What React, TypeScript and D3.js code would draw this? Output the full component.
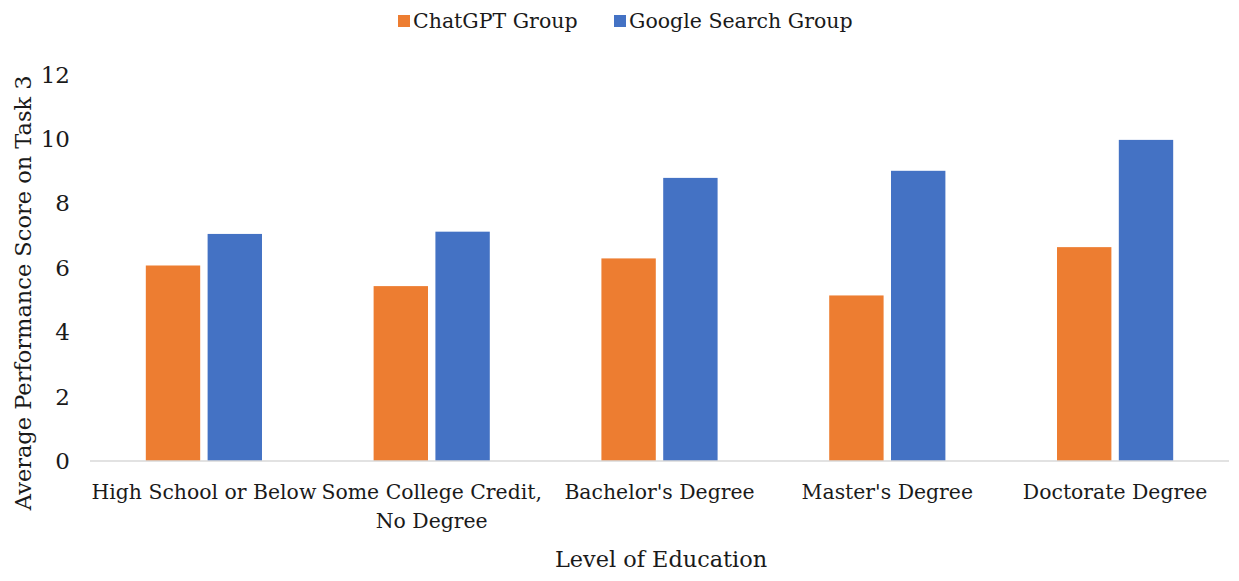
import * as d3 from 'd3';
import React, { useEffect } from 'react';

const categories = [
  'High School or Below',
  'Some College Credit,\nNo Degree',
  "Bachelor's Degree",
  "Master's Degree",
  'Doctorate Degree',
];
const seriesNames = ['ChatGPT Group', 'Google Search Group'];
const chatgptScores = [6.07, 5.43, 6.29, 5.14, 6.64];
const googleScores = [7.05, 7.12, 8.79, 9.01, 9.97];
const yTicks = [0, 2, 4, 6, 8, 10, 12];
const colors = ['#ED7D31', '#4472C4'];

// Liberation Serif is not available here, DejaVu Serif is the nearest serif
const FONT = 'DejaVu Serif';

export default function App() {
  const ref = React.useRef<SVGSVGElement>(null);

  useEffect(() => {
    if (!ref.current) return;
    const svg = d3.select(ref.current);
    svg.selectAll('*').remove();

    const left = 90;
    const right = 1229;
    const top = 74.5;
    const bottom = 461;

    const x0 = d3
      .scaleBand()
      .domain(categories)
      .range([left, right])
      .paddingInner(0.49)
      .paddingOuter(0.245);
    const x1 = d3
      .scaleBand()
      .domain(seriesNames)
      .range([0, x0.bandwidth()])
      .paddingInner(0.12);
    const y = d3.scaleLinear().domain([0, 12]).range([bottom, top]);

    const rows = categories.map((c, i) => ({
      category: c,
      values: [chatgptScores[i], googleScores[i]],
    }));

    // Bars
    const groups = svg
      .selectAll('.cat')
      .data(rows)
      .enter()
      .append('g')
      .attr('transform', d => `translate(${x0(d.category)},0)`);
    groups
      .selectAll('rect')
      .data(d => d.values.map((v, i) => ({ name: seriesNames[i], value: v, i })))
      .enter()
      .append('rect')
      .attr('x', d => x1(d.name) as number)
      .attr('y', d => y(d.value))
      .attr('width', x1.bandwidth())
      .attr('height', d => y(0) - y(d.value))
      .attr('fill', d => colors[d.i]);

    // Baseline
    svg
      .append('line')
      .attr('x1', left)
      .attr('x2', right)
      .attr('y1', y(0))
      .attr('y2', y(0))
      .attr('stroke', '#d9d9d9')
      .attr('stroke-width', 1.5);

    // Y tick labels
    svg
      .selectAll('.ytick')
      .data(yTicks)
      .enter()
      .append('text')
      .attr('x', 70)
      .attr('y', d => y(d))
      .attr('dy', '0.35em')
      .attr('text-anchor', 'end')
      .attr('font-family', FONT)
      .attr('font-size', 23)
      .text(d => d);

    // Category labels
    const catLabels = svg
      .selectAll('.xlabel')
      .data(categories)
      .enter()
      .append('text')
      .attr('text-anchor', 'middle')
      .attr('font-family', FONT)
      .attr('font-size', 20.4)
      .attr('transform', d => `translate(${(x0(d) as number) + x0.bandwidth() / 2},499)`);
    catLabels
      .selectAll('tspan')
      .data(d => d.split('\n'))
      .enter()
      .append('tspan')
      .attr('x', 0)
      .attr('y', (d, i) => i * 29)
      .text(d => d);

    // Axis titles
    svg
      .append('text')
      .attr('x', 661)
      .attr('y', 567)
      .attr('text-anchor', 'middle')
      .attr('font-family', FONT)
      .attr('font-size', 22.4)
      .text('Level of Education');
    svg
      .append('text')
      .attr('transform', `translate(31,${(top + bottom) / 2 + 25}) rotate(-90)`)
      .attr('text-anchor', 'middle')
      .attr('font-family', FONT)
      .attr('font-size', 22.5)
      .text('Average Performance Score on Task 3');

    // Legend
    const legendX = [398, 614];
    const legend = svg
      .selectAll('.legend')
      .data(seriesNames)
      .enter()
      .append('g')
      .attr('transform', (d, i) => `translate(${legendX[i]},15)`);
    legend
      .append('rect')
      .attr('width', 12)
      .attr('height', 12)
      .attr('fill', (d, i) => colors[i]);
    legend
      .append('text')
      .attr('x', 15)
      .attr('y', 6)
      .attr('dy', '0.35em')
      .attr('font-family', FONT)
      .attr('font-size', 20.5)
      .text(d => d);
  }, []);

  return (
    <svg
      ref={ref}
      width={1239}
      height={581}
      style={{ position: 'absolute', left: 0, top: 0, background: '#fff', fill: '#1a1a1a' }}
    />
  );
}
